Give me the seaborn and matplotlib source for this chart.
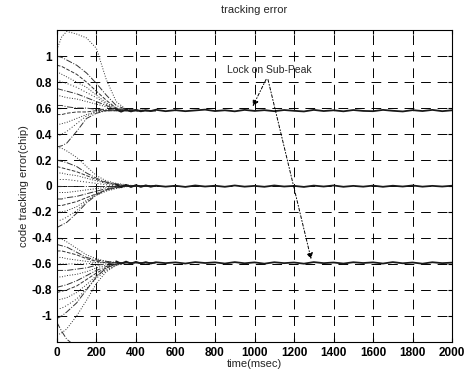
import matplotlib
matplotlib.use("Agg")
import matplotlib.pyplot as plt
import seaborn as sns

# time knots (msec) for the transient part of each curve
t_knots = [0, 25, 50, 100, 150, 200, 250, 300, 350, 400, 500]

# curves converging to the sub-peak at +0.58
upper_curves = [
    [1.05, 1.15, 1.19, 1.17, 1.14, 1.06, 0.82, 0.65, 0.59, 0.585, 0.58],
    [1.00, 0.99, 0.97, 0.93, 0.87, 0.79, 0.70, 0.62, 0.59, 0.585, 0.58],
    [0.93, 0.92, 0.90, 0.86, 0.80, 0.73, 0.66, 0.60, 0.585, 0.58, 0.58],
    [0.88, 0.86, 0.84, 0.80, 0.76, 0.70, 0.64, 0.60, 0.585, 0.58, 0.58],
    [0.82, 0.80, 0.79, 0.76, 0.72, 0.68, 0.63, 0.595, 0.58, 0.58, 0.58],
    [0.75, 0.74, 0.73, 0.71, 0.68, 0.65, 0.62, 0.59, 0.58, 0.58, 0.58],
    [0.70, 0.69, 0.68, 0.67, 0.65, 0.63, 0.61, 0.59, 0.58, 0.58, 0.58],
    [0.62, 0.62, 0.61, 0.60, 0.60, 0.59, 0.59, 0.585, 0.58, 0.58, 0.58],
    [0.55, 0.55, 0.56, 0.57, 0.57, 0.58, 0.58, 0.58, 0.58, 0.58, 0.58],
    [0.47, 0.48, 0.49, 0.52, 0.55, 0.57, 0.58, 0.58, 0.58, 0.58, 0.58],
    [0.38, 0.40, 0.42, 0.48, 0.54, 0.57, 0.58, 0.58, 0.58, 0.58, 0.58],
    [0.30, 0.31, 0.33, 0.42, 0.52, 0.56, 0.58, 0.58, 0.58, 0.58, 0.58],
]

# curves converging to the main peak at 0
middle_curves = [
    [0.30, 0.29, 0.27, 0.22, 0.15, 0.08, 0.04, 0.02, 0.01, 0.0, 0.0],
    [0.20, 0.19, 0.18, 0.15, 0.10, 0.06, 0.03, 0.015, 0.005, 0.0, 0.0],
    [0.15, 0.14, 0.13, 0.11, 0.08, 0.05, 0.025, 0.01, 0.0, 0.0, 0.0],
    [0.10, 0.10, 0.09, 0.08, 0.06, 0.04, 0.02, 0.01, 0.0, 0.0, 0.0],
    [0.05, 0.05, 0.05, 0.04, 0.03, 0.02, 0.01, 0.0, 0.0, 0.0, 0.0],
    [0.00, 0.00, 0.00, 0.00, 0.00, 0.00, 0.00, 0.00, 0.0, 0.0, 0.0],
    [-0.05, -0.05, -0.05, -0.04, -0.03, -0.02, -0.01, 0.0, 0.0, 0.0, 0.0],
    [-0.10, -0.10, -0.09, -0.08, -0.06, -0.04, -0.02, -0.01, 0.0, 0.0, 0.0],
    [-0.15, -0.15, -0.14, -0.12, -0.09, -0.06, -0.03, -0.015, 0.0, 0.0, 0.0],
    [-0.20, -0.20, -0.19, -0.16, -0.11, -0.07, -0.04, -0.02, -0.005, 0.0, 0.0],
    [-0.27, -0.26, -0.24, -0.19, -0.12, -0.06, -0.03, -0.01, 0.0, 0.0, 0.0],
    [-0.32, -0.30, -0.28, -0.21, -0.13, -0.07, -0.03, -0.01, 0.0, 0.0, 0.0],
]

# curves converging to the sub-peak at -0.59
lower_curves = [
    [-0.40, -0.41, -0.43, -0.48, -0.53, -0.56, -0.58, -0.59, -0.59, -0.59, -0.59],
    [-0.45, -0.46, -0.47, -0.51, -0.55, -0.57, -0.58, -0.59, -0.59, -0.59, -0.59],
    [-0.50, -0.50, -0.51, -0.53, -0.56, -0.58, -0.59, -0.59, -0.59, -0.59, -0.59],
    [-0.55, -0.55, -0.56, -0.57, -0.58, -0.59, -0.59, -0.59, -0.59, -0.59, -0.59],
    [-0.60, -0.60, -0.60, -0.60, -0.60, -0.59, -0.59, -0.59, -0.59, -0.59, -0.59],
    [-0.65, -0.65, -0.65, -0.64, -0.63, -0.61, -0.60, -0.59, -0.59, -0.59, -0.59],
    [-0.70, -0.70, -0.69, -0.68, -0.66, -0.63, -0.61, -0.60, -0.59, -0.59, -0.59],
    [-0.78, -0.77, -0.76, -0.73, -0.69, -0.65, -0.62, -0.60, -0.59, -0.59, -0.59],
    [-0.82, -0.81, -0.80, -0.77, -0.72, -0.67, -0.63, -0.60, -0.59, -0.59, -0.59],
    [-0.88, -0.87, -0.86, -0.82, -0.76, -0.69, -0.64, -0.61, -0.59, -0.59, -0.59],
    [-0.95, -0.94, -0.92, -0.87, -0.79, -0.71, -0.65, -0.61, -0.59, -0.59, -0.59],
    [-1.02, -1.00, -0.97, -0.90, -0.80, -0.70, -0.63, -0.60, -0.59, -0.59, -0.59],
    [-1.15, -1.13, -1.10, -1.00, -0.88, -0.75, -0.66, -0.61, -0.59, -0.59, -0.59],
    [-1.05, -1.12, -1.18, -1.24, -1.26, -1.26, -1.26, -1.26, -1.26, -1.26, -1.26],
]

# steady-state (noisy) tracks after convergence
t_band = [300, 325, 350, 375, 400, 425, 450, 475, 500, 550, 600, 650, 700, 750, 800,
          850, 900, 950, 1000, 1050, 1100, 1150, 1200, 1250, 1300, 1350, 1400,
          1450, 1500, 1550, 1600, 1650, 1700, 1750, 1800, 1850, 1900, 1950, 2000]
upper_band = [0.590, 0.572, 0.588, 0.574, 0.586, 0.575, 0.584, 0.577, 0.587, 0.576,
              0.584, 0.576, 0.582, 0.588, 0.577, 0.583, 0.575, 0.586, 0.578, 0.584,
              0.576, 0.585, 0.579, 0.574, 0.586, 0.577, 0.583, 0.575, 0.585, 0.578,
              0.576, 0.586, 0.579, 0.574, 0.584, 0.577, 0.586, 0.576, 0.583]
middle_band = [0.012, -0.010, 0.009, -0.008, 0.007, -0.007, 0.005, -0.006, 0.003, -0.005,
               0.002, -0.007, 0.004, -0.004, 0.002, -0.006, 0.004, -0.005, 0.001, -0.006,
               0.004, -0.004, 0.001, -0.007, 0.003, -0.004, 0.004, -0.006, 0.001, -0.005,
               0.003, -0.006, 0.002, -0.004, 0.004, -0.005, 0.001, -0.004, 0.002]
lower_band = [-0.580, -0.598, -0.582, -0.597, -0.584, -0.596, -0.586, -0.597, -0.587, -0.594,
              -0.588, -0.597, -0.586, -0.593, -0.588, -0.597, -0.586, -0.595, -0.588, -0.598,
              -0.587, -0.594, -0.589, -0.598, -0.586, -0.594, -0.589, -0.597, -0.587, -0.593,
              -0.588, -0.597, -0.586, -0.595, -0.589, -0.598, -0.587, -0.594, -0.590]

x_ticks = [0, 200, 400, 600, 800, 1000, 1200, 1400, 1600, 1800, 2000]
y_ticks = [-1, -0.8, -0.6, -0.4, -0.2, 0, 0.2, 0.4, 0.6, 0.8, 1]
y_tick_labels = ["-1", "-0.8", "-0.6", "-0.4", "-0.2", "0", "0.2", "0.4", "0.6", "0.8", "1"]

annot_text = "Lock on Sub-Peak"
annot_xy = (1075, 0.89)
arrow_start = (1065, 0.84)
arrow_targets = [(985, 0.595), (1290, -0.585)]

sns.set_style("white")
plt.rcParams["font.family"] = ["Liberation Sans", "DejaVu Sans"]

fig = plt.figure(figsize=(4.70, 3.72), dpi=100)
ax = fig.add_axes([0.121, 0.081, 0.841, 0.838])

styles = [":", "-.", "--", ":", (0, (1, 2)), "-."]
i = 0
for group in (upper_curves, middle_curves, lower_curves):
    for vals in group:
        sns.lineplot(x=t_knots, y=vals, ax=ax, color="#333333", lw=0.7,
                     linestyle=styles[i % len(styles)], estimator=None)
        i += 1

for band in (upper_band, middle_band, lower_band):
    sns.lineplot(x=t_band, y=band, ax=ax, color="#1a1a1a", lw=1.3, estimator=None)

ax.set_xlim(0, 2000)
ax.set_ylim(-1.2, 1.2)
ax.set_xticks(x_ticks)
ax.set_xticklabels([str(v) for v in x_ticks])
ax.set_yticks(y_ticks)
ax.set_yticklabels(y_tick_labels)
ax.grid(True, color="black", linestyle=(0, (10, 7)), lw=0.7)
ax.tick_params(direction="in", length=3, labelsize=8.5, colors="black",
               top=True, right=True, bottom=True, left=True)
for lab in ax.get_xticklabels() + ax.get_yticklabels():
    lab.set_fontweight("bold")
for sp in ax.spines.values():
    sp.set_color("black")
    sp.set_linewidth(0.8)

ax.set_title("tracking error", fontsize=8, pad=12)
ax.set_xlabel("time(msec)", fontsize=8, labelpad=0)
ax.set_ylabel("code tracking error(chip)", fontsize=8, labelpad=2)

ax.text(annot_xy[0], annot_xy[1], annot_text, fontsize=7.5, ha="center", va="center")
for tgt in arrow_targets:
    ax.annotate("", xy=tgt, xytext=arrow_start,
                arrowprops=dict(arrowstyle="-|>", color="black", lw=0.7,
                                linestyle=(0, (3, 2, 1, 2)), mutation_scale=9))

fig.savefig("out.png", dpi=100, facecolor="white")
